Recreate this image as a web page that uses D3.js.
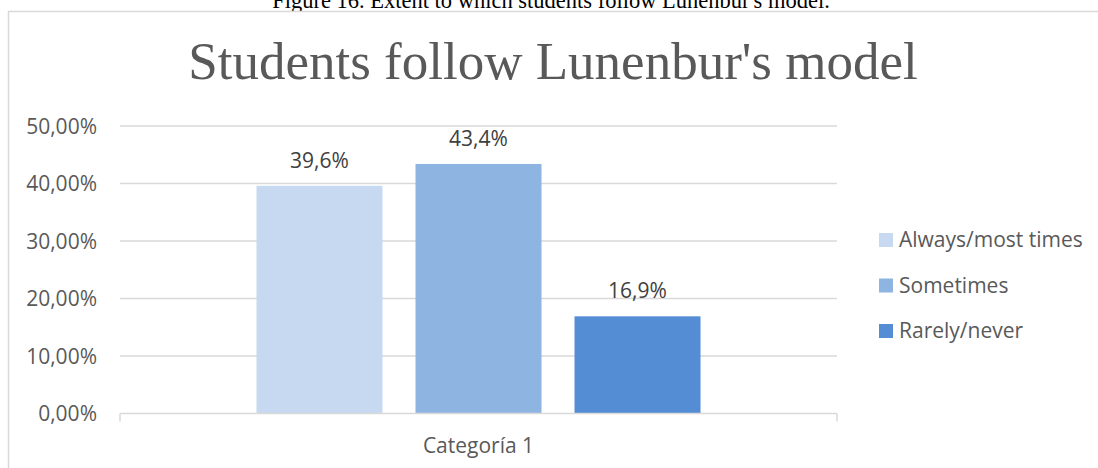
<!DOCTYPE html>
<html>
<head>
<meta charset="utf-8">
<script src="https://cdn.jsdelivr.net/npm/d3@7"></script>
<style>
  html, body { margin: 0; padding: 0; background: #fff; overflow: hidden; }
  svg { display: block; }
</style>
</head>
<body>
<svg id="chart" width="1098" height="468"></svg>
<script>
// Chart data
const categories = ["Categoría 1"];
const series = ["Always/most times", "Sometimes", "Rarely/never"];
const values = [0.396, 0.434, 0.169];
const valueLabels = ["39,6%", "43,4%", "16,9%"];
const colors = ["#c6d9f0", "#8eb4e2", "#548dd4"];
const yTicks = [0, 0.1, 0.2, 0.3, 0.4, 0.5];
const yTickLabels = ["0,00%", "10,00%", "20,00%", "30,00%", "40,00%", "50,00%"];

const caption = "Figure 16.  Extent to which students follow Lunenbur's model.";
const title = "Students follow Lunenbur's model";

const svg = d3.select("#chart");
const sans = "'Open Sans', 'Noto Sans', sans-serif";
const serif = "'Liberation Serif', 'Times New Roman', serif";
const axisGrey = "#d9d9d9";
const textGrey = "#595959";

const plot = { left: 120, right: 837, top: 126, bottom: 413.5 };

// Document caption above the chart frame
svg.append("text")
  .attr("x", 551).attr("y", 8)
  .attr("text-anchor", "middle")
  .attr("font-family", serif).attr("font-size", 22.5)
  .attr("fill", "#000")
  .text(caption);

// Chart frame
svg.append("rect")
  .attr("x", 8.5).attr("y", 11.5)
  .attr("width", 1200).attr("height", 600)
  .attr("fill", "#fff")
  .attr("stroke", axisGrey).attr("stroke-width", 1.5);

// Title
svg.append("text")
  .attr("x", 553).attr("y", 79)
  .attr("text-anchor", "middle")
  .attr("font-family", serif).attr("font-size", 53)
  .attr("fill", textGrey)
  .text(title);

// Scales
const y = d3.scaleLinear().domain([0, 0.5]).range([plot.bottom, plot.top]);
const x0 = d3.scaleBand().domain(categories)
  .range([plot.left, plot.right]).paddingInner(0).paddingOuter(0.3074);
const x1 = d3.scaleBand().domain(series)
  .range([0, x0.bandwidth()]).paddingInner(33 / 159).paddingOuter(0);
const color = d3.scaleOrdinal().domain(series).range(colors);

// Gridlines
svg.append("g")
  .selectAll("line")
  .data(yTicks.filter(d => d > 0))
  .join("line")
  .attr("x1", plot.left).attr("x2", plot.right)
  .attr("y1", d => y(d)).attr("y2", d => y(d))
  .attr("stroke", axisGrey).attr("stroke-width", 1.5);

// Y axis labels
const yAxis = d3.axisLeft(y)
  .tickValues(yTicks)
  .tickFormat((d, i) => yTickLabels[i])
  .tickSize(0).tickPadding(0);
const gy = svg.append("g")
  .attr("transform", `translate(97,0)`)
  .call(yAxis);
gy.select(".domain").remove();
gy.selectAll("text")
  .attr("font-family", sans).attr("font-size", 21)
  .attr("fill", textGrey).attr("dy", "0.35em");

// Bars
const rows = series.map((s, i) => ({ cat: categories[0], series: s, value: values[i], label: valueLabels[i] }));
const g = svg.append("g");
g.selectAll("rect")
  .data(rows)
  .join("rect")
  .attr("x", d => x0(d.cat) + x1(d.series))
  .attr("y", d => y(d.value))
  .attr("width", x1.bandwidth())
  .attr("height", d => y(0) - y(d.value))
  .attr("fill", d => color(d.series));

// Value labels
g.selectAll("text")
  .data(rows)
  .join("text")
  .attr("x", d => x0(d.cat) + x1(d.series) + x1.bandwidth() / 2)
  .attr("y", d => y(d.value) - 18)
  .attr("text-anchor", "middle")
  .attr("font-family", sans).attr("font-size", 21)
  .attr("fill", "#404040")
  .text(d => d.label);

// X axis
const xAxis = d3.axisBottom(x0).tickSize(0).tickPadding(0);
const gx = svg.append("g")
  .attr("transform", `translate(0,${plot.bottom})`)
  .call(xAxis);
gx.select(".domain").remove();
gx.append("line")
  .attr("x1", plot.left).attr("x2", plot.right)
  .attr("y1", 0).attr("y2", 0)
  .attr("stroke", axisGrey).attr("stroke-width", 1.5);
[plot.left, plot.right].forEach(px => {
  gx.append("line")
    .attr("x1", px).attr("x2", px)
    .attr("y1", 0).attr("y2", 8)
    .attr("stroke", axisGrey).attr("stroke-width", 1.5);
});
gx.selectAll(".tick text")
  .attr("y", 39)
  .attr("dy", 0)
  .attr("font-family", sans).attr("font-size", 21)
  .attr("fill", textGrey);

// Legend
const legend = svg.append("g").attr("transform", "translate(879,0)");
const legendY = d3.scalePoint().domain(series).range([240, 331]);
const items = legend.selectAll("g")
  .data(series)
  .join("g")
  .attr("transform", d => `translate(0,${legendY(d)})`);
items.append("rect")
  .attr("x", 0).attr("y", -7)
  .attr("width", 14).attr("height", 14)
  .attr("fill", d => color(d));
items.append("text")
  .attr("x", 20).attr("y", 0).attr("dy", "0.35em")
  .attr("font-family", sans).attr("font-size", 21)
  .attr("fill", textGrey)
  .text(d => d);
</script>
</body>
</html>
